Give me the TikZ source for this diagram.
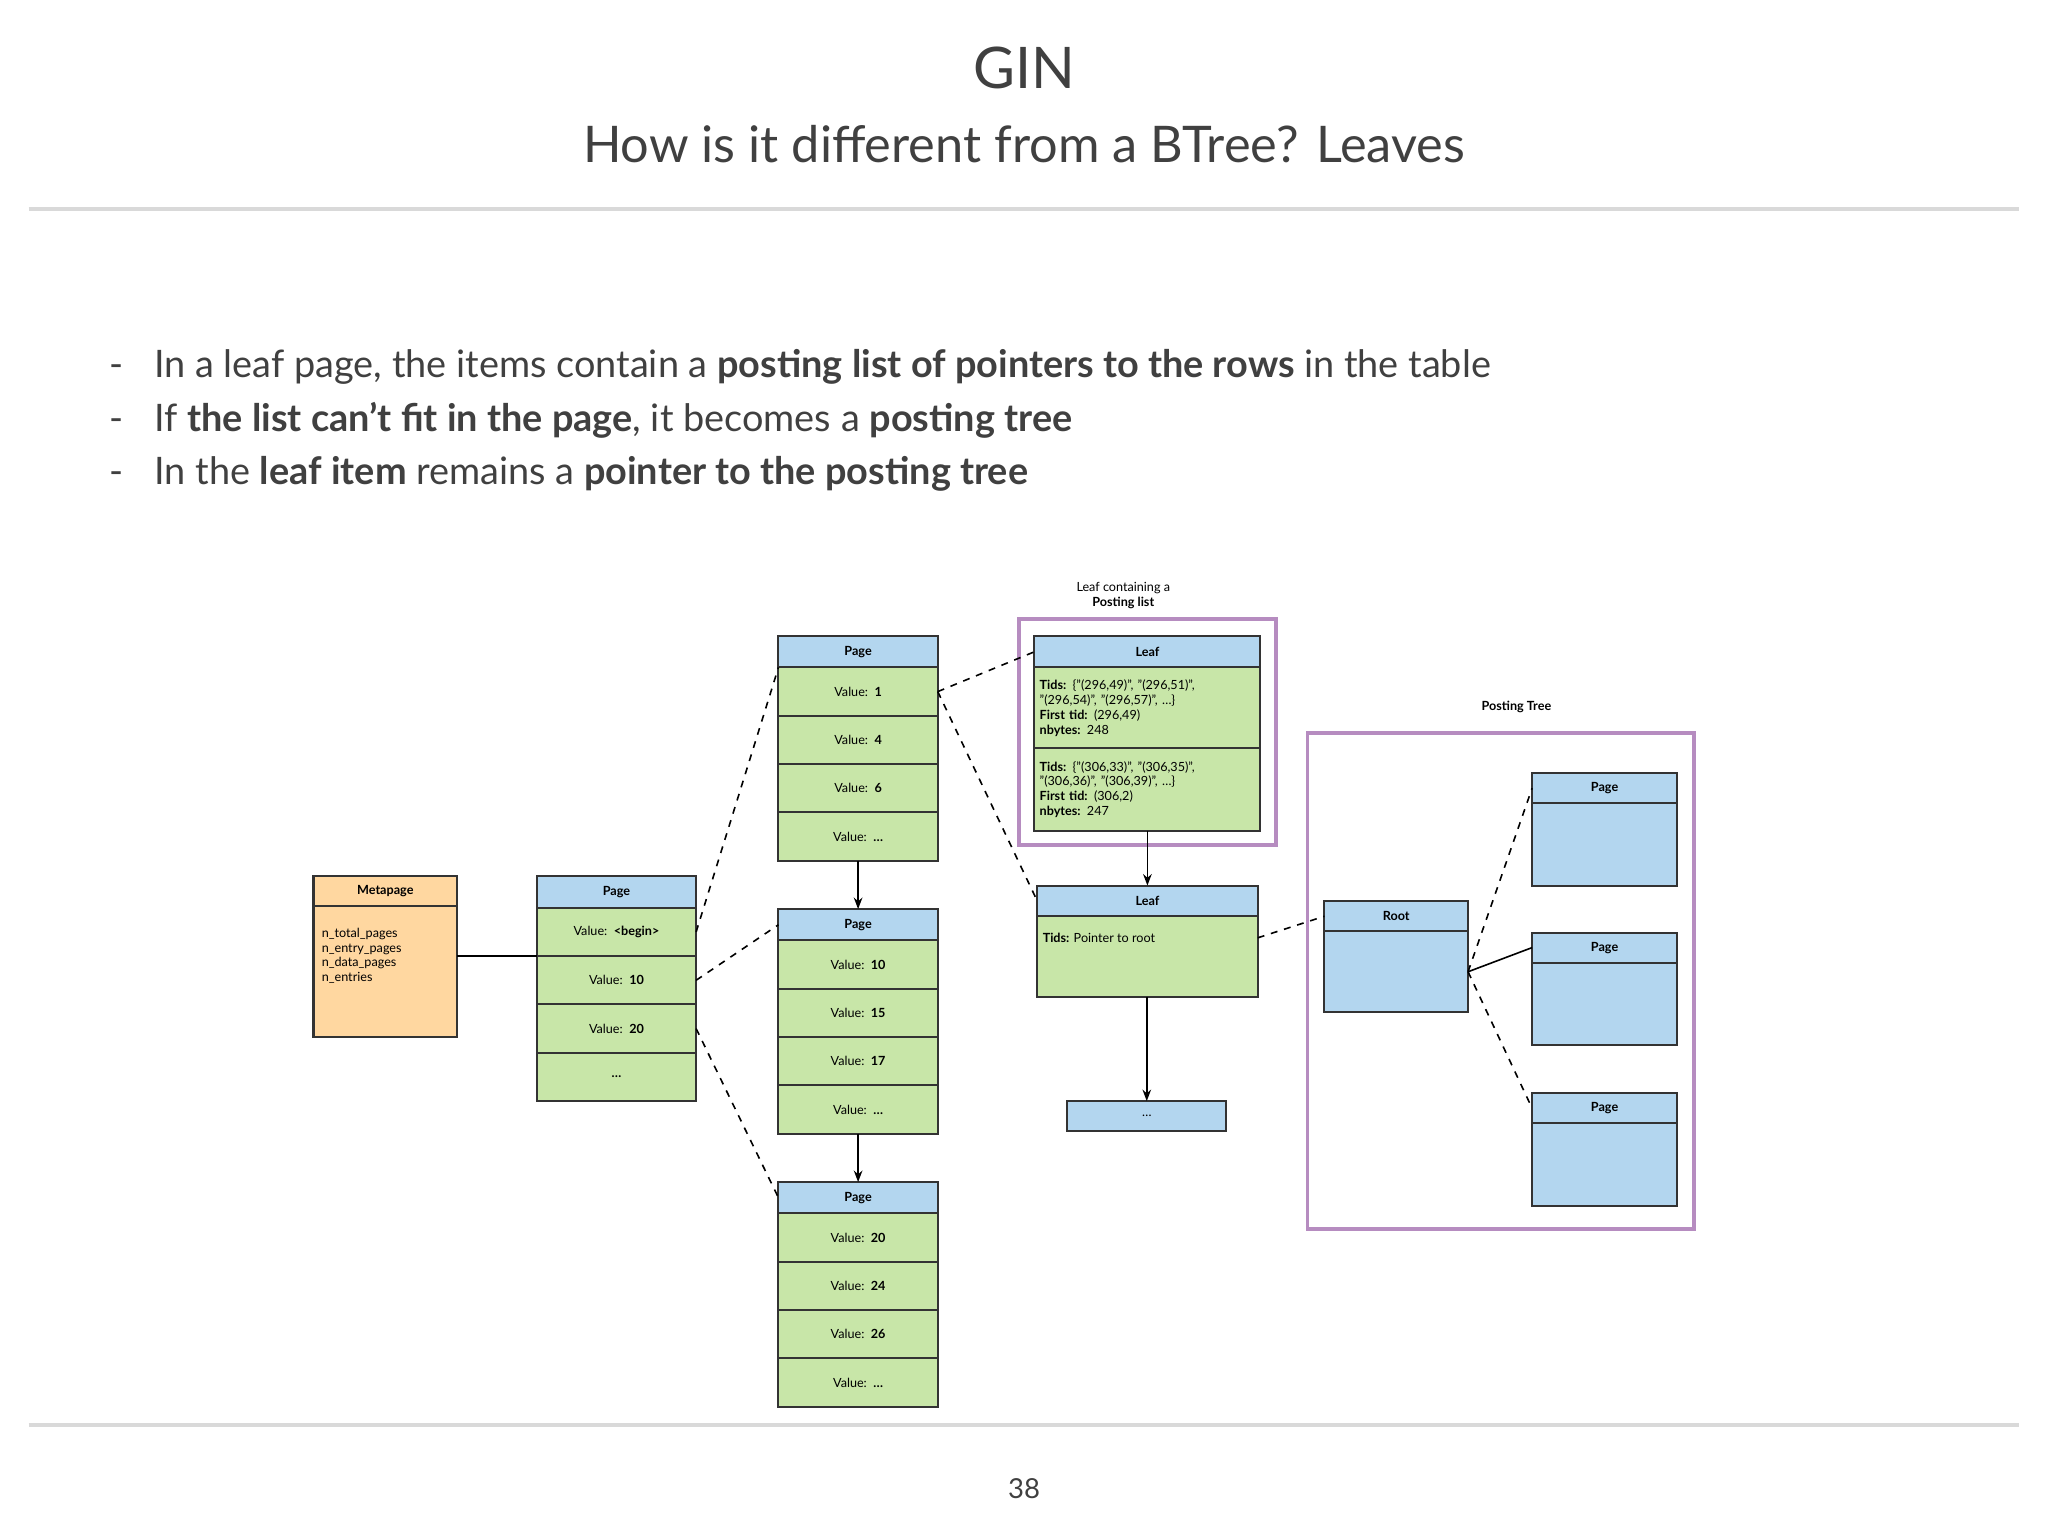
\documentclass[tikz,border=0pt]{standalone}
\usepackage{fontspec}
\setmainfont{Lato}
\usetikzlibrary{arrows.meta}
\definecolor{hdrblue}{HTML}{B3D6EF}
\definecolor{cellgreen}{HTML}{C8E6A8}
\definecolor{metaorange}{HTML}{FFD7A0}
\definecolor{framepurple}{HTML}{B68CC0}
\definecolor{slidegray}{HTML}{404040}
\tikzset{
  box/.style={draw=black!80, line width=0.9pt, anchor=north west, inner sep=0pt, outer sep=0pt,
    font=\fontsize{5.5}{6.5}\selectfont\bfseries},
  hdr/.style={box, fill=hdrblue, minimum width=2.44cm, minimum height=0.48cm},
  cell/.style={box, fill=cellgreen, minimum width=2.44cm, minimum height=0.74cm,
    font=\fontsize{5.5}{6.5}\selectfont},
  frame/.style={draw=framepurple, line width=1.6pt},
  link/.style={dashed, line width=0.7pt},
  nextpage/.style={-{Stealth[length=5pt]}, line width=0.7pt},
}
\begin{document}
\begin{tikzpicture}[x=0.02cm,y=-0.02cm]
\useasboundingbox (0,0) rectangle (1568,1176);
% slide title
\node (title) at (784,52) [text=slidegray, font=\fontsize{25}{30}\selectfont] {GIN};
\node (subtitle) at (784,110) [text=slidegray, font=\fontsize{22}{26}\selectfont] {How is it different from a BTree? Leaves};
\draw[black!15, line width=1.5pt] (22,160) -- (1546,160);
\draw[black!15, line width=1.5pt] (22,1091) -- (1546,1091);
\node (pageno) at (784,1140) [text=slidegray, font=\fontsize{12}{14}\selectfont] {38};
% bullets
\foreach \y/\t [count=\i] in {281/{In a leaf page, the items contain a \textbf{posting list of pointers to the rows} in the table},
  322/{If \textbf{the list can’t fit in the page}, it becomes a \textbf{posting tree}},
  363/{In the \textbf{leaf item} remains a \textbf{pointer to the posting tree}}}
  \node (bullet\i) at (78,\y) [anchor=west, text=slidegray, font=\fontsize{16.5}{20}\selectfont] {-\hspace{0.8em}\t};

% metapage
\node (meta) at (240,671) [box, fill=metaorange, minimum width=2.2cm, minimum height=0.46cm] {Metapage};
\node (metabody) at (240,694) [box, fill=metaorange, minimum width=2.2cm, minimum height=2cm] {};
\node (metatext) at (246,710) [anchor=north west, inner sep=0pt, align=left, font=\fontsize{5.5}{6.5}\selectfont]
  {n\_total\_pages\\n\_entry\_pages\\n\_data\_pages\\n\_entries};

% entry tree root page
\node (root) at (411,671) [hdr] {Page};
\foreach \v [count=\i] in {\textless begin\textgreater,10,20}
  \node (rootr\i) at (411,{695+37*(\i-1)}) [cell] {Value:\ \ \textbf{\v}};
\node (rootr4) at (411,806) [cell] {\textbf{\ldots}};

% leaf level pages
\foreach \n/\y/\a/\b/\c in {p1/487/1/4/6, p2/696/10/15/17, p3/905/20/24/26}{
  \node (\n) at (596,\y) [hdr] {Page};
  \foreach \v [count=\i] in {\a,\b,\c,\ldots}
    \node (\n r\i) at (596,{\y+24+37*(\i-1)}) [cell] {Value:\ \ \textbf{\v}};
}

% posting list leaf
\node (leaflabel) at (860,456) [align=center, font=\fontsize{5.5}{6.5}\selectfont] {Leaf containing a\\\textbf{Posting list}};
\draw[frame] (780,474) rectangle (977,647);
\node (leaf) at (792,487) [hdr, minimum width=3.46cm] {Leaf};
\node (leafa) at (792,511) [cell, minimum width=3.46cm, minimum height=1.24cm, align=left, text width=3.3cm]
  {\textbf{Tids:} \{"(296,49)", "(296,51)",\\"(296,54)", "(296,57)", \ldots\}\\\textbf{First tid:} (296,49)\\\textbf{nbytes:} 248};
\node (leafb) at (792,573) [cell, minimum width=3.46cm, minimum height=1.26cm, align=left, text width=3.3cm]
  {\textbf{Tids:} \{"(306,33)", "(306,35)",\\"(306,36)", "(306,39)", \ldots\}\\\textbf{First tid:} (306,2)\\\textbf{nbytes:} 247};

% leaf with posting tree pointer
\node (leaf2) at (794,678) [hdr, minimum width=3.38cm, minimum height=0.46cm] {Leaf};
\node (leaf2b) at (794,701) [cell, minimum width=3.38cm, minimum height=1.24cm] {};
\node (leaf2t) at (798,718) [anchor=west, inner sep=0pt, font=\fontsize{5.5}{6.5}\selectfont] {\textbf{Tids:} Pointer to root};
\node (more) at (817,843) [hdr, minimum width=2.44cm, minimum height=0.46cm, font=\fontsize{5.5}{6.5}\selectfont] {\ldots};

% posting tree
\node (ptlabel) at (1161,541) [font=\fontsize{5.5}{6.5}\selectfont\bfseries] {Posting Tree};
\draw[frame] (1001,561) rectangle (1297,941);
\node (proot) at (1014,690) [hdr, minimum width=2.2cm, minimum height=0.46cm] {Root};
\node (prootb) at (1014,713) [box, fill=hdrblue, minimum width=2.2cm, minimum height=1.24cm] {};
\foreach \y [count=\i] in {592,714,837}{
  \node (pp\i) at (1173,\y) [hdr, minimum width=2.22cm, minimum height=0.46cm] {Page};
  \node (pp\i b) at (1173,\y+23) [box, fill=hdrblue, minimum width=2.22cm, minimum height=1.26cm] {};
}

% connectors
\draw[line width=0.9pt] (metabody.east |- rootr2.north) -- (rootr2.north west);
\draw[link] (rootr1.east) -- (p1.south west);
\draw[link] (rootr2.east) -- (p2.west);
\draw[link] (rootr3.east) -- (p3.west);
\draw[link] (p1r1.east) -- (leaf.west);
\draw[link] (p1r1.east) -- (leaf2.west);
\draw[nextpage] (p1r4.south) -- (p2.north);
\draw[nextpage] (p2r4.south) -- (p3.north);
\draw[nextpage] (leafb.south) -- (leaf2.north -| leafb.south);
\draw[nextpage] (leaf2b.south -| more.north) -- (more.north);
\draw[link] (leaf2t.east -| leaf2b.east) -- (proot.west);
\draw[link] (prootb.east) -- (pp1.west);
\draw[line width=0.7pt] (prootb.east) -- (pp2.west);
\draw[link] (prootb.east) -- (pp3.west);
\end{tikzpicture}
\end{document}
